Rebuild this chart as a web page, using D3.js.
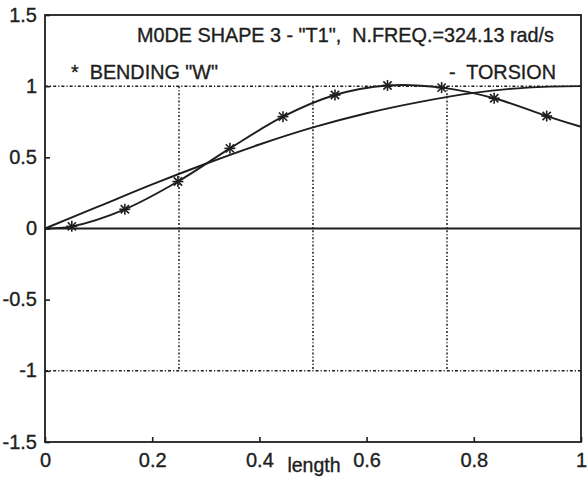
<!DOCTYPE html>
<html>
<head>
<meta charset="utf-8">
<script src="https://cdn.jsdelivr.net/npm/d3@7"></script>
<style>
  html, body { margin: 0; padding: 0; background: #ffffff; }
  svg { display: block; }
  text { font-family: "Liberation Sans", Arial, sans-serif; fill: #1e1e1e; stroke: #1e1e1e; stroke-width: 0.35px; white-space: pre; }
</style>
</head>
<body>
<svg id="chart" width="588" height="484"></svg>
<script>
// ---- data ----
const bendingMarkerX = [0.05, 0.149, 0.248, 0.345, 0.444, 0.541, 0.639, 0.740, 0.838, 0.936];
const bendingMarkerY = [0.015, 0.135, 0.33, 0.563, 0.786, 0.938, 1.005, 0.99, 0.915, 0.79];
const bendingCurveX = [0, 0.05, 0.149, 0.248, 0.345, 0.444, 0.541, 0.639, 0.740, 0.838, 0.936, 1.0];
const bendingCurveY = [0, 0.015, 0.135, 0.33, 0.563, 0.786, 0.938, 1.005, 0.99, 0.915, 0.79, 0.715];
const torsionX = [0, 0.1, 0.2, 0.3, 0.4, 0.5, 0.6, 0.7, 0.8, 0.9, 1.0];
const torsionY = [0, 0.155, 0.31, 0.455, 0.59, 0.71, 0.81, 0.89, 0.953, 0.99, 1.0];
const refHorizontal = [1, -1];
const refVertical = [0.25, 0.5, 0.75];
const xTicks = [0, 0.2, 0.4, 0.6, 0.8, 1];
const yTicks = [-1.5, -1, -0.5, 0, 0.5, 1, 1.5];
const titleText = 'M0DE SHAPE 3 - "T1",  N.FREQ.=324.13 rad/s';
const legendBending = '*  BENDING "W"';
const legendTorsion = '-  TORSION';
const xLabel = 'length';

// ---- layout ----
const L = 45, R = 581, T = 15, B = 442;
const svg = d3.select('#chart');
const ink = '#1e1e1e';

const x = d3.scaleLinear().domain([0, 1]).range([L, R]);
const y = d3.scaleLinear().domain([-1.5, 1.5]).range([B, T]);

// reference lines
svg.append('g').selectAll('line').data(refHorizontal).join('line')
  .attr('x1', x(0)).attr('x2', x(1))
  .attr('y1', d => y(d)).attr('y2', d => y(d))
  .attr('stroke', ink).attr('stroke-width', 1.5)
  .attr('stroke-dasharray', '3,2,1.2,2');
svg.append('g').selectAll('line').data(refVertical).join('line')
  .attr('x1', d => x(d)).attr('x2', d => x(d))
  .attr('y1', y(1)).attr('y2', y(-1))
  .attr('stroke', ink).attr('stroke-width', 1.5)
  .attr('stroke-dasharray', '2,2,1.2,2');

// zero line
svg.append('line')
  .attr('x1', x(0)).attr('x2', x(1)).attr('y1', y(0)).attr('y2', y(0))
  .attr('stroke', ink).attr('stroke-width', 1.8);

// curves
const line = d3.line().x(d => x(d[0])).y(d => y(d[1])).curve(d3.curveCatmullRom.alpha(0.5));
svg.append('path')
  .datum(torsionX.map((v, i) => [v, torsionY[i]]))
  .attr('d', line).attr('fill', 'none').attr('stroke', ink).attr('stroke-width', 1.9);
svg.append('path')
  .datum(bendingCurveX.map((v, i) => [v, bendingCurveY[i]]))
  .attr('d', line).attr('fill', 'none').attr('stroke', ink).attr('stroke-width', 1.9);

// asterisk markers
const ms = 5.5;
const mk = svg.append('g').selectAll('g').data(bendingMarkerX.map((v, i) => [v, bendingMarkerY[i]])).join('g')
  .attr('transform', d => `translate(${x(d[0])},${y(d[1])})`)
  .attr('stroke', ink).attr('stroke-width', 1.6);
mk.append('line').attr('x1', -ms).attr('x2', ms).attr('y1', 0).attr('y2', 0);
mk.append('line').attr('x1', 0).attr('x2', 0).attr('y1', -ms).attr('y2', ms);
mk.append('line').attr('x1', -ms * 0.75).attr('x2', ms * 0.75).attr('y1', -ms * 0.75).attr('y2', ms * 0.75);
mk.append('line').attr('x1', -ms * 0.75).attr('x2', ms * 0.75).attr('y1', ms * 0.75).attr('y2', -ms * 0.75);

// axes box
svg.append('rect').attr('x', L).attr('y', T).attr('width', R - L).attr('height', B - T)
  .attr('fill', 'none').attr('stroke', ink).attr('stroke-width', 1.8);

const xAxis = d3.axisBottom(x).tickValues(xTicks).tickSize(-5).tickPadding(11).tickFormat(d => String(d));
const gx = svg.append('g').attr('transform', `translate(0,${B})`).call(xAxis);
const yAxis = d3.axisLeft(y).tickValues(yTicks).tickSize(-5).tickPadding(8).tickFormat(d => String(d));
const gy = svg.append('g').attr('transform', `translate(${L},0)`).call(yAxis);
[gx, gy].forEach(g => {
  g.select('.domain').remove();
  g.selectAll('.tick line').attr('stroke', ink).attr('stroke-width', 1.6);
  g.selectAll('.tick text').attr('font-size', 20).attr('font-family', '"Liberation Sans", Arial, sans-serif')
    .attr('fill', ink).attr('stroke', ink).attr('stroke-width', 0.35);
});
gy.selectAll('.tick text').attr('dy', '0.3em');

// texts
svg.append('text').attr('x', 137).attr('y', 42).attr('font-size', 19.8).text(titleText);
svg.append('text').attr('x', 71).attr('y', 79).attr('font-size', 19.8).text(legendBending);
svg.append('text').attr('x', 556).attr('y', 79).attr('text-anchor', 'end').attr('font-size', 19.8).text(legendTorsion);
svg.append('text').attr('x', 314).attr('y', 472).attr('text-anchor', 'middle').attr('font-size', 19.5).text(xLabel);
</script>
</body>
</html>
